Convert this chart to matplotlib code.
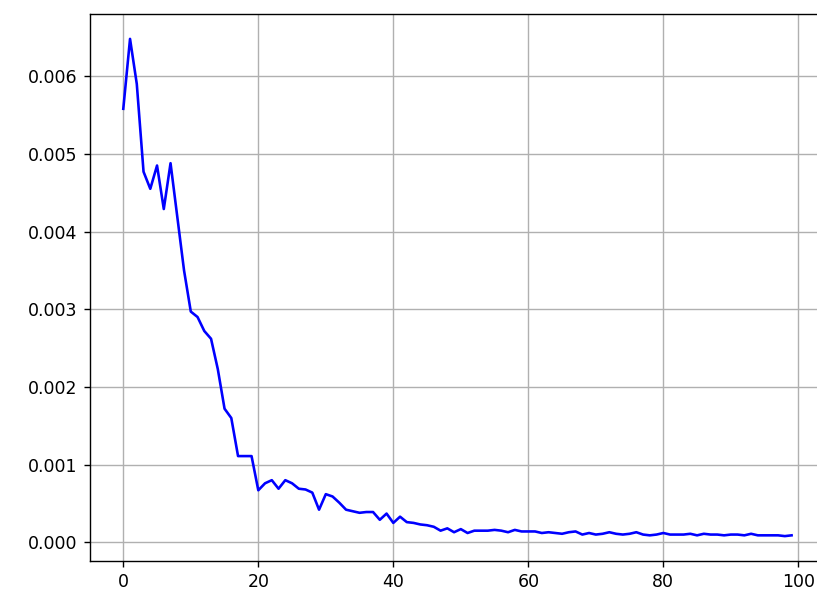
import numpy as np
import matplotlib
matplotlib.use('Agg')
import matplotlib.pyplot as plt

# loss per epoch
loss = [
    0.00558, 0.00648, 0.00590, 0.00477, 0.00455, 0.00485, 0.00429, 0.00488, 0.00419, 0.00350,
    0.00297, 0.00290, 0.00272, 0.00262, 0.00223, 0.00172, 0.00160, 0.00111, 0.00111, 0.00111,
    0.00067, 0.00076, 0.00080, 0.00069, 0.00080, 0.00076, 0.00069, 0.00068, 0.00064, 0.00042,
    0.00062, 0.00059, 0.00051, 0.00042, 0.00040, 0.00038, 0.00039, 0.00039, 0.00029, 0.00037,
    0.00025, 0.00033, 0.00026, 0.00025, 0.00023, 0.00022, 0.00020, 0.00015, 0.00018, 0.00013,
    0.00017, 0.00012, 0.00015, 0.00015, 0.00015, 0.00016, 0.00015, 0.00013, 0.00016, 0.00014,
    0.00014, 0.00014, 0.00012, 0.00013, 0.00012, 0.00011, 0.00013, 0.00014, 0.00010, 0.00012,
    0.00010, 0.00011, 0.00013, 0.00011, 0.00010, 0.00011, 0.00013, 0.00010, 0.00009, 0.00010,
    0.00012, 0.00010, 0.00010, 0.00010, 0.00011, 0.00009, 0.00011, 0.00010, 0.00010, 0.00009,
    0.00010, 0.00010, 0.00009, 0.00011, 0.00009, 0.00009, 0.00009, 0.00009, 0.00008, 0.00009,
]
epochs = np.arange(len(loss))

dpi = 125
fig = plt.figure(figsize=(817 / dpi, 594 / dpi), dpi=dpi)
ax = fig.add_subplot(111)
# the reference is cropped on the right, so the axes run past the figure edge
fig.subplots_adjust(left=0.110, right=1.0098, top=0.9764, bottom=0.0556)
ax.plot(epochs, loss, c='b')
ax.grid(True)
fig.savefig('out.png', dpi=dpi)
